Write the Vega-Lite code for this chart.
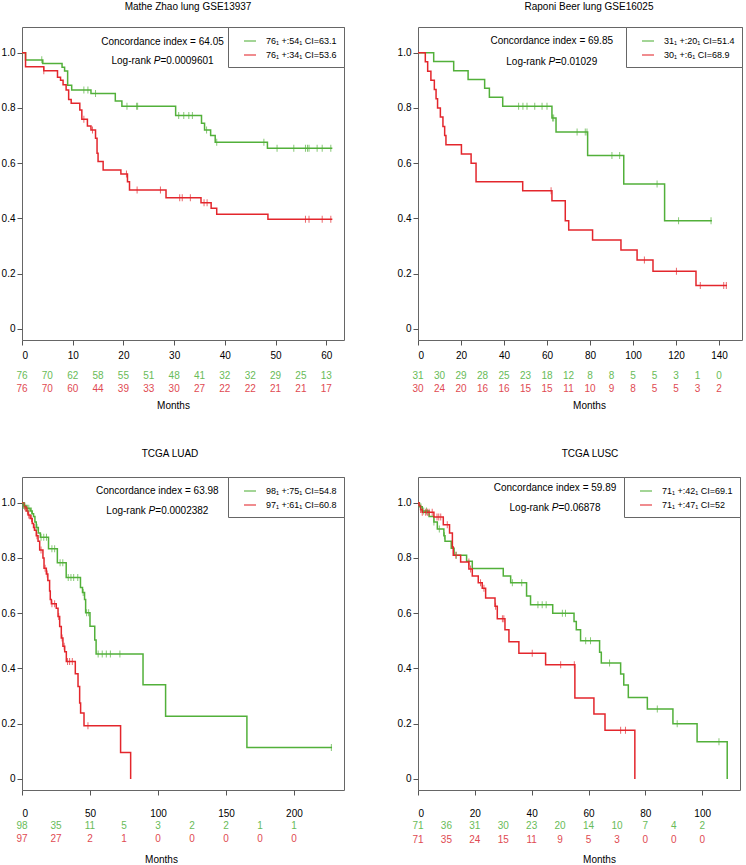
{
  "$schema": "https://vega.github.io/schema/vega-lite/v6.json",
  "background": "white",
  "padding": {"left": 0, "top": 1, "right": 4, "bottom": 0},
  "config": {
    "font": "Liberation Sans",
    "view": {"stroke": "#666", "strokeWidth": 1},
    "title": {"fontSize": 10, "fontWeight": "normal", "color": "black", "offset": 15},
    "axis": {"grid": false, "domain": false, "tickColor": "#555", "tickSize": 5, "labelFontSize": 10, "labelColor": "black", "titleFontSize": 10, "titleFontWeight": "normal", "titleColor": "black", "labelPadding": 2},
    "legend": {"title": null, "orient": "top-right", "offset": 0, "strokeColor": "#666", "fillColor": "white", "padding": 7, "symbolOffset": 8, "labelFontSize": 9, "labelColor": "black", "symbolType": "stroke", "symbolSize": 144, "symbolStrokeWidth": 1.5, "labelOffset": 9, "rowPadding": 2},
    "text": {"font": "Liberation Sans"}
  },
  "datasets": {
    "km": [
      {"p":1,"g":"g","t":0,"s":1},{"p":1,"g":"g","t":0.7,"s":0.974},{"p":1,"g":"g","t":4.1,"s":0.961},{"p":1,"g":"g","t":7.9,"s":0.947},{"p":1,"g":"g","t":8.4,"s":0.934},{"p":1,"g":"g","t":9.0,"s":0.882},{"p":1,"g":"g","t":9.8,"s":0.865},{"p":1,"g":"g","t":13.6,"s":0.852},{"p":1,"g":"g","t":18.4,"s":0.825},{"p":1,"g":"g","t":19.7,"s":0.806},{"p":1,"g":"g","t":30.3,"s":0.773},{"p":1,"g":"g","t":35.4,"s":0.745},{"p":1,"g":"g","t":36.0,"s":0.72},{"p":1,"g":"g","t":37.2,"s":0.70},{"p":1,"g":"g","t":38.1,"s":0.676},{"p":1,"g":"g","t":48.4,"s":0.654},{"p":1,"g":"g","t":61.2,"s":0.654},
      {"p":1,"g":"r","t":0,"s":1},{"p":1,"g":"r","t":0.7,"s":0.949},{"p":1,"g":"r","t":4.3,"s":0.935},{"p":1,"g":"r","t":7.0,"s":0.911},{"p":1,"g":"r","t":7.6,"s":0.900},{"p":1,"g":"r","t":8.1,"s":0.884},{"p":1,"g":"r","t":8.7,"s":0.865},{"p":1,"g":"r","t":9.2,"s":0.831},{"p":1,"g":"r","t":9.7,"s":0.817},{"p":1,"g":"r","t":11.4,"s":0.793},{"p":1,"g":"r","t":11.8,"s":0.759},{"p":1,"g":"r","t":12.9,"s":0.735},{"p":1,"g":"r","t":13.6,"s":0.72},{"p":1,"g":"r","t":14.5,"s":0.69},{"p":1,"g":"r","t":14.8,"s":0.636},{"p":1,"g":"r","t":15.0,"s":0.606},{"p":1,"g":"r","t":16.0,"s":0.575},{"p":1,"g":"r","t":19.5,"s":0.561},{"p":1,"g":"r","t":20.8,"s":0.533},{"p":1,"g":"r","t":21.2,"s":0.503},{"p":1,"g":"r","t":28.4,"s":0.475},{"p":1,"g":"r","t":35.3,"s":0.457},{"p":1,"g":"r","t":37.3,"s":0.437},{"p":1,"g":"r","t":38.4,"s":0.415},{"p":1,"g":"r","t":48.5,"s":0.397},{"p":1,"g":"r","t":61.2,"s":0.397},
      {"p":2,"g":"g","t":0,"s":1},{"p":2,"g":"g","t":7.3,"s":0.968},{"p":2,"g":"g","t":16.6,"s":0.935},{"p":2,"g":"g","t":23.3,"s":0.903},{"p":2,"g":"g","t":31,"s":0.871},{"p":2,"g":"g","t":33.2,"s":0.839},{"p":2,"g":"g","t":39.4,"s":0.806},{"p":2,"g":"g","t":62.3,"s":0.764},{"p":2,"g":"g","t":64.2,"s":0.713},{"p":2,"g":"g","t":78.9,"s":0.628},{"p":2,"g":"g","t":95.7,"s":0.525},{"p":2,"g":"g","t":114.7,"s":0.392},{"p":2,"g":"g","t":136.7,"s":0.392},
      {"p":2,"g":"r","t":0,"s":1},{"p":2,"g":"r","t":3.4,"s":0.967},{"p":2,"g":"r","t":4.5,"s":0.933},{"p":2,"g":"r","t":6.0,"s":0.900},{"p":2,"g":"r","t":7.6,"s":0.867},{"p":2,"g":"r","t":8.4,"s":0.833},{"p":2,"g":"r","t":9.1,"s":0.800},{"p":2,"g":"r","t":10.4,"s":0.767},{"p":2,"g":"r","t":11.6,"s":0.733},{"p":2,"g":"r","t":12.4,"s":0.700},{"p":2,"g":"r","t":13.0,"s":0.667},{"p":2,"g":"r","t":20.2,"s":0.633},{"p":2,"g":"r","t":24.7,"s":0.600},{"p":2,"g":"r","t":27,"s":0.533},{"p":2,"g":"r","t":48.7,"s":0.500},{"p":2,"g":"r","t":62.3,"s":0.464},{"p":2,"g":"r","t":68.5,"s":0.392},{"p":2,"g":"r","t":70.1,"s":0.358},{"p":2,"g":"r","t":81.2,"s":0.322},{"p":2,"g":"r","t":94.4,"s":0.286},{"p":2,"g":"r","t":101.9,"s":0.250},{"p":2,"g":"r","t":109.3,"s":0.209},{"p":2,"g":"r","t":129.3,"s":0.157},{"p":2,"g":"r","t":143.7,"s":0.157},
      {"p":3,"g":"g","t":0,"s":1},{"p":3,"g":"g","t":1,"s":0.99},{"p":3,"g":"g","t":3,"s":0.98},{"p":3,"g":"g","t":6,"s":0.97},{"p":3,"g":"g","t":7.5,"s":0.96},{"p":3,"g":"g","t":8.5,"s":0.95},{"p":3,"g":"g","t":9.5,"s":0.93},{"p":3,"g":"g","t":10.5,"s":0.91},{"p":3,"g":"g","t":12,"s":0.89},{"p":3,"g":"g","t":13.5,"s":0.875},{"p":3,"g":"g","t":19.5,"s":0.833},{"p":3,"g":"g","t":26,"s":0.783},{"p":3,"g":"g","t":32.5,"s":0.729},{"p":3,"g":"g","t":43,"s":0.693},{"p":3,"g":"g","t":44.5,"s":0.675},{"p":3,"g":"g","t":46,"s":0.65},{"p":3,"g":"g","t":46.8,"s":0.602},{"p":3,"g":"g","t":50,"s":0.553},{"p":3,"g":"g","t":53.5,"s":0.503},{"p":3,"g":"g","t":54.5,"s":0.452},{"p":3,"g":"g","t":89,"s":0.341},{"p":3,"g":"g","t":105.6,"s":0.227},{"p":3,"g":"g","t":165.4,"s":0.114},{"p":3,"g":"g","t":228,"s":0.114},
      {"p":3,"g":"r","t":0,"s":1},{"p":3,"g":"r","t":1.5,"s":0.985},{"p":3,"g":"r","t":3,"s":0.97},{"p":3,"g":"r","t":4.5,"s":0.955},{"p":3,"g":"r","t":6,"s":0.943},{"p":3,"g":"r","t":7.5,"s":0.925},{"p":3,"g":"r","t":8.5,"s":0.91},{"p":3,"g":"r","t":9.3,"s":0.9},{"p":3,"g":"r","t":10.5,"s":0.88},{"p":3,"g":"r","t":11.8,"s":0.86},{"p":3,"g":"r","t":13,"s":0.829},{"p":3,"g":"r","t":15.4,"s":0.80},{"p":3,"g":"r","t":16.2,"s":0.763},{"p":3,"g":"r","t":17.9,"s":0.742},{"p":3,"g":"r","t":19,"s":0.718},{"p":3,"g":"r","t":20.3,"s":0.68},{"p":3,"g":"r","t":20.8,"s":0.65},{"p":3,"g":"r","t":21.6,"s":0.634},{"p":3,"g":"r","t":25.2,"s":0.618},{"p":3,"g":"r","t":26.5,"s":0.588},{"p":3,"g":"r","t":27.7,"s":0.552},{"p":3,"g":"r","t":28.9,"s":0.51},{"p":3,"g":"r","t":30.1,"s":0.48},{"p":3,"g":"r","t":31.4,"s":0.46},{"p":3,"g":"r","t":32.6,"s":0.425},{"p":3,"g":"r","t":39.2,"s":0.381},{"p":3,"g":"r","t":41.2,"s":0.335},{"p":3,"g":"r","t":42.4,"s":0.275},{"p":3,"g":"r","t":43.1,"s":0.239},{"p":3,"g":"r","t":45.6,"s":0.193},{"p":3,"g":"r","t":72.5,"s":0.096},{"p":3,"g":"r","t":79.9,"s":0.0},
      {"p":4,"g":"g","t":0,"s":1},{"p":4,"g":"g","t":0.5,"s":0.985},{"p":4,"g":"g","t":1.5,"s":0.97},{"p":4,"g":"g","t":3.9,"s":0.95},{"p":4,"g":"g","t":5.6,"s":0.93},{"p":4,"g":"g","t":6.8,"s":0.905},{"p":4,"g":"g","t":9.1,"s":0.88},{"p":4,"g":"g","t":9.5,"s":0.86},{"p":4,"g":"g","t":11.7,"s":0.835},{"p":4,"g":"g","t":12.7,"s":0.81},{"p":4,"g":"g","t":17.1,"s":0.788},{"p":4,"g":"g","t":19.1,"s":0.762},{"p":4,"g":"g","t":30,"s":0.735},{"p":4,"g":"g","t":32.6,"s":0.71},{"p":4,"g":"g","t":38.2,"s":0.662},{"p":4,"g":"g","t":39.6,"s":0.631},{"p":4,"g":"g","t":47.4,"s":0.60},{"p":4,"g":"g","t":54.9,"s":0.57},{"p":4,"g":"g","t":55.7,"s":0.54},{"p":4,"g":"g","t":57.2,"s":0.50},{"p":4,"g":"g","t":63.9,"s":0.459},{"p":4,"g":"g","t":64.5,"s":0.42},{"p":4,"g":"g","t":71.3,"s":0.38},{"p":4,"g":"g","t":72.4,"s":0.34},{"p":4,"g":"g","t":74,"s":0.295},{"p":4,"g":"g","t":80.7,"s":0.253},{"p":4,"g":"g","t":89.7,"s":0.20},{"p":4,"g":"g","t":98.2,"s":0.135},{"p":4,"g":"g","t":108.8,"s":0.0},
      {"p":4,"g":"r","t":0,"s":1},{"p":4,"g":"r","t":0.35,"s":0.99},{"p":4,"g":"r","t":0.9,"s":0.975},{"p":4,"g":"r","t":1.5,"s":0.965},{"p":4,"g":"r","t":5.6,"s":0.948},{"p":4,"g":"r","t":8.9,"s":0.92},{"p":4,"g":"r","t":11.1,"s":0.89},{"p":4,"g":"r","t":12.1,"s":0.84},{"p":4,"g":"r","t":12.4,"s":0.81},{"p":4,"g":"r","t":15,"s":0.785},{"p":4,"g":"r","t":17.9,"s":0.76},{"p":4,"g":"r","t":19.1,"s":0.735},{"p":4,"g":"r","t":21.2,"s":0.71},{"p":4,"g":"r","t":22.6,"s":0.69},{"p":4,"g":"r","t":23.8,"s":0.655},{"p":4,"g":"r","t":27.1,"s":0.625},{"p":4,"g":"r","t":27.9,"s":0.58},{"p":4,"g":"r","t":30.6,"s":0.54},{"p":4,"g":"r","t":32,"s":0.497},{"p":4,"g":"r","t":35.5,"s":0.455},{"p":4,"g":"r","t":44.9,"s":0.413},{"p":4,"g":"r","t":55.2,"s":0.293},{"p":4,"g":"r","t":61.9,"s":0.235},{"p":4,"g":"r","t":65.8,"s":0.176},{"p":4,"g":"r","t":76.3,"s":0.0}
    ],
    "cen": [
      {"p":1,"g":"g","t":3.9,"s":0.974},{"p":1,"g":"g","t":12.2,"s":0.865},{"p":1,"g":"g","t":13.0,"s":0.865},{"p":1,"g":"g","t":14.5,"s":0.852},{"p":1,"g":"g","t":20.7,"s":0.806},{"p":1,"g":"g","t":22.6,"s":0.806},{"p":1,"g":"g","t":22.8,"s":0.806},{"p":1,"g":"g","t":30.9,"s":0.773},{"p":1,"g":"g","t":31.9,"s":0.773},{"p":1,"g":"g","t":32.9,"s":0.773},{"p":1,"g":"g","t":33.6,"s":0.773},{"p":1,"g":"g","t":36.4,"s":0.72},{"p":1,"g":"g","t":38.4,"s":0.676},{"p":1,"g":"g","t":47.7,"s":0.676},{"p":1,"g":"g","t":50.3,"s":0.654},{"p":1,"g":"g","t":53.6,"s":0.654},{"p":1,"g":"g","t":55.9,"s":0.654},{"p":1,"g":"g","t":56.3,"s":0.654},{"p":1,"g":"g","t":56.6,"s":0.654},{"p":1,"g":"g","t":58.2,"s":0.654},{"p":1,"g":"g","t":59.2,"s":0.654},{"p":1,"g":"g","t":60.9,"s":0.654},
      {"p":1,"g":"r","t":4.3,"s":0.935},{"p":1,"g":"r","t":12.2,"s":0.759},{"p":1,"g":"r","t":13.9,"s":0.72},{"p":1,"g":"r","t":20.6,"s":0.561},{"p":1,"g":"r","t":22.7,"s":0.503},{"p":1,"g":"r","t":27.3,"s":0.503},{"p":1,"g":"r","t":31.1,"s":0.475},{"p":1,"g":"r","t":31.6,"s":0.475},{"p":1,"g":"r","t":33.2,"s":0.475},{"p":1,"g":"r","t":35.9,"s":0.457},{"p":1,"g":"r","t":36.5,"s":0.457},{"p":1,"g":"r","t":55.9,"s":0.397},{"p":1,"g":"r","t":56.6,"s":0.397},{"p":1,"g":"r","t":59.2,"s":0.397},{"p":1,"g":"r","t":60.9,"s":0.397},
      {"p":2,"g":"g","t":46.8,"s":0.806},{"p":2,"g":"g","t":48.8,"s":0.806},{"p":2,"g":"g","t":50.7,"s":0.806},{"p":2,"g":"g","t":54.3,"s":0.806},{"p":2,"g":"g","t":57.7,"s":0.806},{"p":2,"g":"g","t":60.0,"s":0.806},{"p":2,"g":"g","t":62.6,"s":0.764},{"p":2,"g":"g","t":63.1,"s":0.764},{"p":2,"g":"g","t":74,"s":0.713},{"p":2,"g":"g","t":77.8,"s":0.713},{"p":2,"g":"g","t":78.6,"s":0.713},{"p":2,"g":"g","t":90.2,"s":0.628},{"p":2,"g":"g","t":93.8,"s":0.628},{"p":2,"g":"g","t":111.2,"s":0.525},{"p":2,"g":"g","t":121.2,"s":0.392},{"p":2,"g":"g","t":136.3,"s":0.392},
      {"p":2,"g":"r","t":61.9,"s":0.5},{"p":2,"g":"r","t":105.3,"s":0.25},{"p":2,"g":"r","t":120.2,"s":0.209},{"p":2,"g":"r","t":131.3,"s":0.157},{"p":2,"g":"r","t":142.2,"s":0.157},{"p":2,"g":"r","t":143.4,"s":0.157},
      {"p":3,"g":"g","t":1,"s":0.99},{"p":3,"g":"g","t":2,"s":0.99},{"p":3,"g":"g","t":4,"s":0.98},{"p":3,"g":"g","t":5,"s":0.98},{"p":3,"g":"g","t":7,"s":0.97},{"p":3,"g":"g","t":11,"s":0.91},{"p":3,"g":"g","t":14,"s":0.875},{"p":3,"g":"g","t":16,"s":0.875},{"p":3,"g":"g","t":18,"s":0.875},{"p":3,"g":"g","t":22,"s":0.833},{"p":3,"g":"g","t":24,"s":0.833},{"p":3,"g":"g","t":28,"s":0.783},{"p":3,"g":"g","t":30,"s":0.783},{"p":3,"g":"g","t":34,"s":0.729},{"p":3,"g":"g","t":36,"s":0.729},{"p":3,"g":"g","t":38,"s":0.729},{"p":3,"g":"g","t":41,"s":0.729},{"p":3,"g":"g","t":45,"s":0.675},{"p":3,"g":"g","t":47.5,"s":0.602},{"p":3,"g":"g","t":49,"s":0.602},{"p":3,"g":"g","t":56,"s":0.452},{"p":3,"g":"g","t":59,"s":0.452},{"p":3,"g":"g","t":62,"s":0.452},{"p":3,"g":"g","t":65,"s":0.452},{"p":3,"g":"g","t":72,"s":0.452},{"p":3,"g":"g","t":227.5,"s":0.114},
      {"p":3,"g":"r","t":2,"s":0.985},{"p":3,"g":"r","t":4,"s":0.97},{"p":3,"g":"r","t":5,"s":0.955},{"p":3,"g":"r","t":7,"s":0.943},{"p":3,"g":"r","t":9,"s":0.91},{"p":3,"g":"r","t":11,"s":0.88},{"p":3,"g":"r","t":14,"s":0.829},{"p":3,"g":"r","t":17,"s":0.763},{"p":3,"g":"r","t":18.5,"s":0.742},{"p":3,"g":"r","t":22,"s":0.634},{"p":3,"g":"r","t":24,"s":0.634},{"p":3,"g":"r","t":27,"s":0.588},{"p":3,"g":"r","t":29.5,"s":0.51},{"p":3,"g":"r","t":31,"s":0.48},{"p":3,"g":"r","t":33.5,"s":0.425},{"p":3,"g":"r","t":35,"s":0.425},{"p":3,"g":"r","t":37,"s":0.425},{"p":3,"g":"r","t":48.5,"s":0.193},
      {"p":4,"g":"g","t":1,"s":0.985},{"p":4,"g":"g","t":2,"s":0.97},{"p":4,"g":"g","t":3,"s":0.97},{"p":4,"g":"g","t":5.6,"s":0.93},{"p":4,"g":"g","t":7.5,"s":0.905},{"p":4,"g":"g","t":9.3,"s":0.88},{"p":4,"g":"g","t":13.5,"s":0.81},{"p":4,"g":"g","t":33.2,"s":0.71},{"p":4,"g":"g","t":36.5,"s":0.71},{"p":4,"g":"g","t":42.2,"s":0.631},{"p":4,"g":"g","t":43.7,"s":0.631},{"p":4,"g":"g","t":45.1,"s":0.631},{"p":4,"g":"g","t":50.8,"s":0.60},{"p":4,"g":"g","t":51.9,"s":0.60},{"p":4,"g":"g","t":59,"s":0.50},{"p":4,"g":"g","t":60.7,"s":0.50},{"p":4,"g":"g","t":67.4,"s":0.42},{"p":4,"g":"g","t":84.2,"s":0.253},{"p":4,"g":"g","t":91.2,"s":0.20},{"p":4,"g":"g","t":105.9,"s":0.135},
      {"p":4,"g":"r","t":0.9,"s":0.975},{"p":4,"g":"r","t":1.5,"s":0.965},{"p":4,"g":"r","t":2.7,"s":0.965},{"p":4,"g":"r","t":3.3,"s":0.965},{"p":4,"g":"r","t":3.9,"s":0.965},{"p":4,"g":"r","t":5.0,"s":0.965},{"p":4,"g":"r","t":6.7,"s":0.948},{"p":4,"g":"r","t":7.3,"s":0.948},{"p":4,"g":"r","t":8,"s":0.948},{"p":4,"g":"r","t":10.3,"s":0.92},{"p":4,"g":"r","t":13.3,"s":0.81},{"p":4,"g":"r","t":17.9,"s":0.785},{"p":4,"g":"r","t":18.5,"s":0.76},{"p":4,"g":"r","t":22,"s":0.71},{"p":4,"g":"r","t":23.2,"s":0.69},{"p":4,"g":"r","t":27.3,"s":0.625},{"p":4,"g":"r","t":29.7,"s":0.58},{"p":4,"g":"r","t":30.2,"s":0.58},{"p":4,"g":"r","t":40.2,"s":0.455},{"p":4,"g":"r","t":50.2,"s":0.413},{"p":4,"g":"r","t":55.0,"s":0.413},{"p":4,"g":"r","t":71.3,"s":0.176},{"p":4,"g":"r","t":73,"s":0.176}
    ],
    "risk": [
      {"p":1,"g":"g","t":0,"n":76},{"p":1,"g":"g","t":5,"n":70},{"p":1,"g":"g","t":10,"n":62},{"p":1,"g":"g","t":15,"n":58},{"p":1,"g":"g","t":20,"n":55},{"p":1,"g":"g","t":25,"n":51},{"p":1,"g":"g","t":30,"n":48},{"p":1,"g":"g","t":35,"n":41},{"p":1,"g":"g","t":40,"n":32},{"p":1,"g":"g","t":45,"n":32},{"p":1,"g":"g","t":50,"n":29},{"p":1,"g":"g","t":55,"n":25},{"p":1,"g":"g","t":60,"n":13},
      {"p":1,"g":"r","t":0,"n":76},{"p":1,"g":"r","t":5,"n":70},{"p":1,"g":"r","t":10,"n":60},{"p":1,"g":"r","t":15,"n":44},{"p":1,"g":"r","t":20,"n":39},{"p":1,"g":"r","t":25,"n":33},{"p":1,"g":"r","t":30,"n":30},{"p":1,"g":"r","t":35,"n":27},{"p":1,"g":"r","t":40,"n":22},{"p":1,"g":"r","t":45,"n":22},{"p":1,"g":"r","t":50,"n":21},{"p":1,"g":"r","t":55,"n":21},{"p":1,"g":"r","t":60,"n":17},
      {"p":2,"g":"g","t":0,"n":31},{"p":2,"g":"g","t":10,"n":30},{"p":2,"g":"g","t":20,"n":29},{"p":2,"g":"g","t":30,"n":28},{"p":2,"g":"g","t":40,"n":25},{"p":2,"g":"g","t":50,"n":23},{"p":2,"g":"g","t":60,"n":18},{"p":2,"g":"g","t":70,"n":12},{"p":2,"g":"g","t":80,"n":8},{"p":2,"g":"g","t":90,"n":8},{"p":2,"g":"g","t":100,"n":5},{"p":2,"g":"g","t":110,"n":5},{"p":2,"g":"g","t":120,"n":3},{"p":2,"g":"g","t":130,"n":1},{"p":2,"g":"g","t":140,"n":0},
      {"p":2,"g":"r","t":0,"n":30},{"p":2,"g":"r","t":10,"n":24},{"p":2,"g":"r","t":20,"n":20},{"p":2,"g":"r","t":30,"n":16},{"p":2,"g":"r","t":40,"n":16},{"p":2,"g":"r","t":50,"n":15},{"p":2,"g":"r","t":60,"n":15},{"p":2,"g":"r","t":70,"n":11},{"p":2,"g":"r","t":80,"n":10},{"p":2,"g":"r","t":90,"n":9},{"p":2,"g":"r","t":100,"n":8},{"p":2,"g":"r","t":110,"n":5},{"p":2,"g":"r","t":120,"n":5},{"p":2,"g":"r","t":130,"n":3},{"p":2,"g":"r","t":140,"n":2},
      {"p":3,"g":"g","t":0,"n":98},{"p":3,"g":"g","t":25,"n":35},{"p":3,"g":"g","t":50,"n":11},{"p":3,"g":"g","t":75,"n":5},{"p":3,"g":"g","t":100,"n":3},{"p":3,"g":"g","t":125,"n":2},{"p":3,"g":"g","t":150,"n":2},{"p":3,"g":"g","t":175,"n":1},{"p":3,"g":"g","t":200,"n":1},
      {"p":3,"g":"r","t":0,"n":97},{"p":3,"g":"r","t":25,"n":27},{"p":3,"g":"r","t":50,"n":2},{"p":3,"g":"r","t":75,"n":1},{"p":3,"g":"r","t":100,"n":0},{"p":3,"g":"r","t":125,"n":0},{"p":3,"g":"r","t":150,"n":0},{"p":3,"g":"r","t":175,"n":0},{"p":3,"g":"r","t":200,"n":0},
      {"p":4,"g":"g","t":0,"n":71},{"p":4,"g":"g","t":10,"n":36},{"p":4,"g":"g","t":20,"n":31},{"p":4,"g":"g","t":30,"n":30},{"p":4,"g":"g","t":40,"n":23},{"p":4,"g":"g","t":50,"n":20},{"p":4,"g":"g","t":60,"n":14},{"p":4,"g":"g","t":70,"n":10},{"p":4,"g":"g","t":80,"n":7},{"p":4,"g":"g","t":90,"n":4},{"p":4,"g":"g","t":100,"n":2},
      {"p":4,"g":"r","t":0,"n":71},{"p":4,"g":"r","t":10,"n":35},{"p":4,"g":"r","t":20,"n":24},{"p":4,"g":"r","t":30,"n":15},{"p":4,"g":"r","t":40,"n":11},{"p":4,"g":"r","t":50,"n":9},{"p":4,"g":"r","t":60,"n":5},{"p":4,"g":"r","t":70,"n":3},{"p":4,"g":"r","t":80,"n":0},{"p":4,"g":"r","t":90,"n":0},{"p":4,"g":"r","t":100,"n":0}
    ]
  },
  "columns": 2,
  "spacing": {"row": 37, "column": 51},
  "resolve": {"scale": {"x": "independent", "y": "independent", "color": "independent"}, "legend": {"color": "independent"}},
  "concat": [
    {
      "width": 322, "height": 313,
      "title": {"text": "Mathe Zhao lung GSE13937", "dx": 5},
      "layer": [
        {"data": {"name": "km"}, "transform": [{"filter": "datum.p == 1"}],
         "mark": {"type": "line", "interpolate": "step-after", "strokeWidth": 1.5},
         "encoding": {
           "x": {"field": "t", "type": "quantitative", "scale": {"domain": [0, 63.5], "nice": false, "zero": false}, "axis": {"values": [0,10,20,30,40,50,60], "title": "Months", "labelPadding": 5, "titlePadding": 40, "titleX": 151}},
           "y": {"field": "s", "type": "quantitative", "scale": {"domain": [-0.04, 1.093], "nice": false, "zero": false}, "axis": {"title": null, "values": [0,0.2,0.4,0.6,0.8,1], "labelExpr": "datum.value == 0 ? '0' : format(datum.value, '.1f')"}},
           "color": {"field": "g", "type": "nominal", "scale": {"domain": ["g","r"], "range": ["#52b03a","#e3262c"]}, "legend": {"labelExpr": "datum.value == 'g' ? '76₁ +:54₁ CI=63.1' : '76₁ +:34₁ CI=53.6'"}}
         }},
        {"data": {"name": "cen"}, "transform": [{"filter": "datum.p == 1"}],
         "mark": {"type": "tick", "orient": "vertical", "size": 7, "thickness": 1},
         "encoding": {"x": {"field": "t", "type": "quantitative"}, "y": {"field": "s", "type": "quantitative"}, "color": {"field": "g", "type": "nominal"}}},
        {"data": {"name": "risk"}, "transform": [{"filter": "datum.p == 1 && datum.g == 'g'"}],
         "mark": {"type": "text", "fontSize": 10, "color": "#68bb58", "baseline": "middle"},
         "encoding": {"x": {"field": "t", "type": "quantitative"}, "y": {"datum": -0.17, "type": "quantitative"}, "text": {"field": "n"}}},
        {"data": {"name": "risk"}, "transform": [{"filter": "datum.p == 1 && datum.g == 'r'"}],
         "mark": {"type": "text", "fontSize": 10, "color": "#e04a52", "baseline": "middle"},
         "encoding": {"x": {"field": "t", "type": "quantitative"}, "y": {"datum": -0.218, "type": "quantitative"}, "text": {"field": "n"}}},
        {"data": {"values": [{}]}, "mark": {"type": "text", "fontSize": 10, "align": "center", "baseline": "middle"},
         "encoding": {"x": {"datum": 27.7, "type": "quantitative"}, "y": {"datum": 1.04, "type": "quantitative"}, "text": {"value": "Concordance index = 64.05"}}},
        {"data": {"values": [{}]}, "mark": {"type": "text", "fontSize": 10, "align": "right", "baseline": "middle", "dx": -11.5},
         "encoding": {"x": {"datum": 27.7, "type": "quantitative"}, "y": {"datum": 0.97, "type": "quantitative"}, "text": {"value": "Log-rank"}}},
        {"data": {"values": [{}]}, "mark": {"type": "text", "fontSize": 10, "align": "left", "baseline": "middle", "dx": -8.7, "fontStyle": "italic"},
         "encoding": {"x": {"datum": 27.7, "type": "quantitative"}, "y": {"datum": 0.97, "type": "quantitative"}, "text": {"value": "P"}}},
        {"data": {"values": [{}]}, "mark": {"type": "text", "fontSize": 10, "align": "left", "baseline": "middle", "dx": -2.0},
         "encoding": {"x": {"datum": 27.7, "type": "quantitative"}, "y": {"datum": 0.97, "type": "quantitative"}, "text": {"value": "=0.0009601"}}}
      ]
    },
    {
      "width": 324, "height": 313,
      "title": {"text": "Raponi Beer lung GSE16025", "dx": 9},
      "layer": [
        {"data": {"name": "km"}, "transform": [{"filter": "datum.p == 2"}],
         "mark": {"type": "line", "interpolate": "step-after", "strokeWidth": 1.5},
         "encoding": {
           "x": {"field": "t", "type": "quantitative", "scale": {"domain": [0, 150.7], "nice": false, "zero": false}, "axis": {"values": [0,20,40,60,80,100,120,140], "title": "Months", "labelPadding": 5, "titlePadding": 40, "titleX": 171}},
           "y": {"field": "s", "type": "quantitative", "scale": {"domain": [-0.04, 1.093], "nice": false, "zero": false}, "axis": {"title": null, "values": [0,0.2,0.4,0.6,0.8,1], "labelExpr": "datum.value == 0 ? '0' : format(datum.value, '.1f')"}},
           "color": {"field": "g", "type": "nominal", "scale": {"domain": ["g","r"], "range": ["#52b03a","#e3262c"]}, "legend": {"labelExpr": "datum.value == 'g' ? '31₁ +:20₁ CI=51.4' : '30₁ +:6₁ CI=68.9'"}}
         }},
        {"data": {"name": "cen"}, "transform": [{"filter": "datum.p == 2"}],
         "mark": {"type": "tick", "orient": "vertical", "size": 7, "thickness": 1},
         "encoding": {"x": {"field": "t", "type": "quantitative"}, "y": {"field": "s", "type": "quantitative"}, "color": {"field": "g", "type": "nominal"}}},
        {"data": {"name": "risk"}, "transform": [{"filter": "datum.p == 2 && datum.g == 'g'"}],
         "mark": {"type": "text", "fontSize": 10, "color": "#68bb58", "baseline": "middle"},
         "encoding": {"x": {"field": "t", "type": "quantitative"}, "y": {"datum": -0.17, "type": "quantitative"}, "text": {"field": "n"}}},
        {"data": {"name": "risk"}, "transform": [{"filter": "datum.p == 2 && datum.g == 'r'"}],
         "mark": {"type": "text", "fontSize": 10, "color": "#e04a52", "baseline": "middle"},
         "encoding": {"x": {"field": "t", "type": "quantitative"}, "y": {"datum": -0.216, "type": "quantitative"}, "text": {"field": "n"}}},
        {"data": {"values": [{}]}, "mark": {"type": "text", "fontSize": 10, "align": "center", "baseline": "middle"},
         "encoding": {"x": {"datum": 62.2, "type": "quantitative"}, "y": {"datum": 1.041, "type": "quantitative"}, "text": {"value": "Concordance index = 69.85"}}},
        {"data": {"values": [{}]}, "mark": {"type": "text", "fontSize": 10, "align": "right", "baseline": "middle", "dx": -6.0},
         "encoding": {"x": {"datum": 62.2, "type": "quantitative"}, "y": {"datum": 0.965, "type": "quantitative"}, "text": {"value": "Log-rank"}}},
        {"data": {"values": [{}]}, "mark": {"type": "text", "fontSize": 10, "align": "left", "baseline": "middle", "dx": -3.2, "fontStyle": "italic"},
         "encoding": {"x": {"datum": 62.2, "type": "quantitative"}, "y": {"datum": 0.965, "type": "quantitative"}, "text": {"value": "P"}}},
        {"data": {"values": [{}]}, "mark": {"type": "text", "fontSize": 10, "align": "left", "baseline": "middle", "dx": 3.5},
         "encoding": {"x": {"datum": 62.2, "type": "quantitative"}, "y": {"datum": 0.965, "type": "quantitative"}, "text": {"value": "=0.01029"}}}
      ]
    },
    {
      "width": 322, "height": 313,
      "title": {"text": "TCGA LUAD", "dx": -13, "offset": 18},
      "layer": [
        {"data": {"name": "km"}, "transform": [{"filter": "datum.p == 3"}],
         "mark": {"type": "line", "interpolate": "step-after", "strokeWidth": 1.5},
         "encoding": {
           "x": {"field": "t", "type": "quantitative", "scale": {"domain": [0, 236.8], "nice": false, "zero": false}, "axis": {"values": [0,50,100,150,200], "title": "Months", "labelPadding": 13, "titlePadding": 36, "titleX": 139}},
           "y": {"field": "s", "type": "quantitative", "scale": {"domain": [-0.04, 1.093], "nice": false, "zero": false}, "axis": {"title": null, "values": [0,0.2,0.4,0.6,0.8,1], "labelExpr": "datum.value == 0 ? '0' : format(datum.value, '.1f')"}},
           "color": {"field": "g", "type": "nominal", "scale": {"domain": ["g","r"], "range": ["#52b03a","#e3262c"]}, "legend": {"labelExpr": "datum.value == 'g' ? '98₁ +:75₁ CI=54.8' : '97₁ +:61₁ CI=60.8'"}}
         }},
        {"data": {"name": "cen"}, "transform": [{"filter": "datum.p == 3"}],
         "mark": {"type": "tick", "orient": "vertical", "size": 7, "thickness": 1},
         "encoding": {"x": {"field": "t", "type": "quantitative"}, "y": {"field": "s", "type": "quantitative"}, "color": {"field": "g", "type": "nominal"}}},
        {"data": {"name": "risk"}, "transform": [{"filter": "datum.p == 3 && datum.g == 'g'"}],
         "mark": {"type": "text", "fontSize": 10, "color": "#68bb58", "baseline": "middle"},
         "encoding": {"x": {"field": "t", "type": "quantitative"}, "y": {"datum": -0.17, "type": "quantitative"}, "text": {"field": "n"}}},
        {"data": {"name": "risk"}, "transform": [{"filter": "datum.p == 3 && datum.g == 'r'"}],
         "mark": {"type": "text", "fontSize": 10, "color": "#e04a52", "baseline": "middle"},
         "encoding": {"x": {"field": "t", "type": "quantitative"}, "y": {"datum": -0.218, "type": "quantitative"}, "text": {"field": "n"}}},
        {"data": {"values": [{}]}, "mark": {"type": "text", "fontSize": 10, "align": "center", "baseline": "middle"},
         "encoding": {"x": {"datum": 99.5, "type": "quantitative"}, "y": {"datum": 1.042, "type": "quantitative"}, "text": {"value": "Concordance index = 63.98"}}},
        {"data": {"values": [{}]}, "mark": {"type": "text", "fontSize": 10, "align": "right", "baseline": "middle", "dx": -11.5},
         "encoding": {"x": {"datum": 99.5, "type": "quantitative"}, "y": {"datum": 0.971, "type": "quantitative"}, "text": {"value": "Log-rank"}}},
        {"data": {"values": [{}]}, "mark": {"type": "text", "fontSize": 10, "align": "left", "baseline": "middle", "dx": -8.7, "fontStyle": "italic"},
         "encoding": {"x": {"datum": 99.5, "type": "quantitative"}, "y": {"datum": 0.971, "type": "quantitative"}, "text": {"value": "P"}}},
        {"data": {"values": [{}]}, "mark": {"type": "text", "fontSize": 10, "align": "left", "baseline": "middle", "dx": -2.0},
         "encoding": {"x": {"datum": 99.5, "type": "quantitative"}, "y": {"datum": 0.971, "type": "quantitative"}, "text": {"value": "=0.0002382"}}}
      ]
    },
    {
      "width": 322, "height": 313,
      "title": {"text": "TCGA LUSC", "dx": 11, "offset": 18},
      "layer": [
        {"data": {"name": "km"}, "transform": [{"filter": "datum.p == 4"}],
         "mark": {"type": "line", "interpolate": "step-after", "strokeWidth": 1.5},
         "encoding": {
           "x": {"field": "t", "type": "quantitative", "scale": {"domain": [0, 113.3], "nice": false, "zero": false}, "axis": {"values": [0,20,40,60,80,100], "title": "Months", "labelPadding": 13, "titlePadding": 36, "titleX": 181}},
           "y": {"field": "s", "type": "quantitative", "scale": {"domain": [-0.04, 1.093], "nice": false, "zero": false}, "axis": {"title": null, "values": [0,0.2,0.4,0.6,0.8,1], "labelExpr": "datum.value == 0 ? '0' : format(datum.value, '.1f')"}},
           "color": {"field": "g", "type": "nominal", "scale": {"domain": ["g","r"], "range": ["#52b03a","#e3262c"]}, "legend": {"labelExpr": "datum.value == 'g' ? '71₁ +:42₁ CI=69.1' : '71₁ +:47₁ CI=52'"}}
         }},
        {"data": {"name": "cen"}, "transform": [{"filter": "datum.p == 4"}],
         "mark": {"type": "tick", "orient": "vertical", "size": 7, "thickness": 1},
         "encoding": {"x": {"field": "t", "type": "quantitative"}, "y": {"field": "s", "type": "quantitative"}, "color": {"field": "g", "type": "nominal"}}},
        {"data": {"name": "risk"}, "transform": [{"filter": "datum.p == 4 && datum.g == 'g'"}],
         "mark": {"type": "text", "fontSize": 10, "color": "#68bb58", "baseline": "middle"},
         "encoding": {"x": {"field": "t", "type": "quantitative"}, "y": {"datum": -0.17, "type": "quantitative"}, "text": {"field": "n"}}},
        {"data": {"name": "risk"}, "transform": [{"filter": "datum.p == 4 && datum.g == 'r'"}],
         "mark": {"type": "text", "fontSize": 10, "color": "#e04a52", "baseline": "middle"},
         "encoding": {"x": {"field": "t", "type": "quantitative"}, "y": {"datum": -0.22, "type": "quantitative"}, "text": {"field": "n"}}},
        {"data": {"values": [{}]}, "mark": {"type": "text", "fontSize": 10, "align": "center", "baseline": "middle"},
         "encoding": {"x": {"datum": 48.2, "type": "quantitative"}, "y": {"datum": 1.053, "type": "quantitative"}, "text": {"value": "Concordance index = 59.89"}}},
        {"data": {"values": [{}]}, "mark": {"type": "text", "fontSize": 10, "align": "right", "baseline": "middle", "dx": -6.0},
         "encoding": {"x": {"datum": 48.2, "type": "quantitative"}, "y": {"datum": 0.982, "type": "quantitative"}, "text": {"value": "Log-rank"}}},
        {"data": {"values": [{}]}, "mark": {"type": "text", "fontSize": 10, "align": "left", "baseline": "middle", "dx": -3.2, "fontStyle": "italic"},
         "encoding": {"x": {"datum": 48.2, "type": "quantitative"}, "y": {"datum": 0.982, "type": "quantitative"}, "text": {"value": "P"}}},
        {"data": {"values": [{}]}, "mark": {"type": "text", "fontSize": 10, "align": "left", "baseline": "middle", "dx": 3.5},
         "encoding": {"x": {"datum": 48.2, "type": "quantitative"}, "y": {"datum": 0.982, "type": "quantitative"}, "text": {"value": "=0.06878"}}}
      ]
    }
  ]
}
